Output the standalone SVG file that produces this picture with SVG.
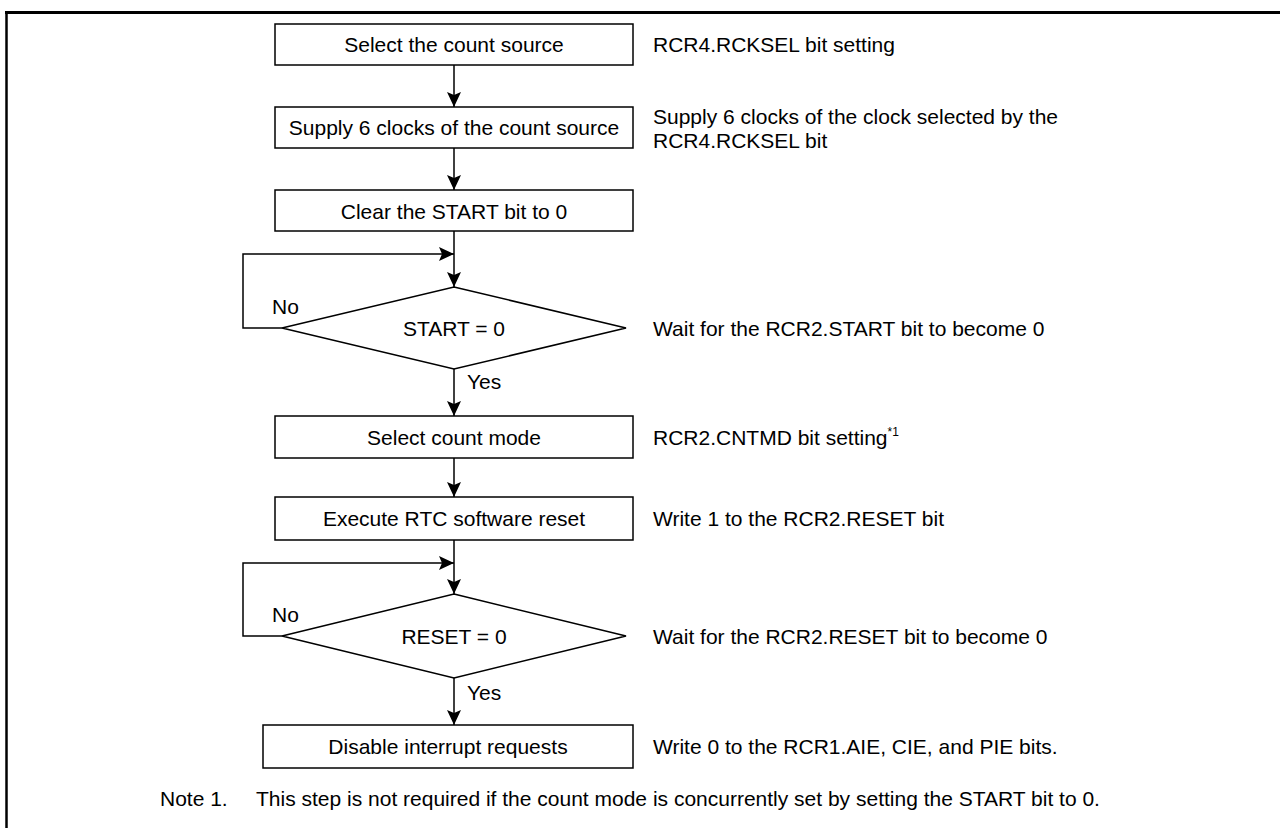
<svg xmlns="http://www.w3.org/2000/svg" width="1280" height="828" viewBox="0 0 1280 828">
<defs>
<marker id="arr" markerUnits="userSpaceOnUse" markerWidth="16" markerHeight="14" refX="15" refY="7" orient="auto">
<path d="M0,0 L15,7 L0,14 L3,7 z" fill="#000"/>
</marker>
<style>
text{font-family:"Liberation Sans",Arial,sans-serif;font-size:21px;fill:#000}
.c{text-anchor:middle}
.box{fill:#fff;stroke:#000;stroke-width:1.5}
.ln{fill:none;stroke:#000;stroke-width:1.5}
.sup{font-size:12px}
</style>
</defs>
<rect width="1280" height="828" fill="#fff"/>
<g id="frame">
<line x1="5" y1="12.5" x2="1280" y2="12.5" stroke="#000" stroke-width="3"/>
<line x1="6.5" y1="11" x2="6.5" y2="828" stroke="#000" stroke-width="2.5"/>
</g>
<g id="connectors">
<line class="ln" x1="454" y1="65" x2="454" y2="107" marker-end="url(#arr)"/>
<line class="ln" x1="454" y1="148" x2="454" y2="190" marker-end="url(#arr)"/>
<line class="ln" x1="454" y1="231" x2="454" y2="287" marker-end="url(#arr)"/>
<polyline class="ln" points="282,328 243,328 243,254 454,254" marker-end="url(#arr)"/>
<line class="ln" x1="454" y1="369" x2="454" y2="416" marker-end="url(#arr)"/>
<line class="ln" x1="454" y1="458" x2="454" y2="497" marker-end="url(#arr)"/>
<line class="ln" x1="454" y1="540" x2="454" y2="594" marker-end="url(#arr)"/>
<polyline class="ln" points="282,636 243,636 243,563 454,563" marker-end="url(#arr)"/>
<line class="ln" x1="454" y1="678" x2="454" y2="725" marker-end="url(#arr)"/>
<text x="272" y="314">No</text>
<text x="467" y="389">Yes</text>
<text x="272" y="622">No</text>
<text x="467" y="700">Yes</text>
</g>
<g id="n1">
<rect class="box" x="275" y="24" width="358" height="41"/>
<text class="c" x="454" y="52">Select the count source</text>
</g>
<g id="n2">
<rect class="box" x="275" y="107" width="358" height="41"/>
<text class="c" x="454" y="135">Supply 6 clocks of the count source</text>
</g>
<g id="n3">
<rect class="box" x="275" y="190" width="358" height="41"/>
<text class="c" x="454" y="218.5">Clear the START bit to 0</text>
</g>
<g id="d1">
<polygon class="box" points="454,287 626,328 454,369 282,328"/>
<text class="c" x="454" y="335.5">START = 0</text>
</g>
<g id="n4">
<rect class="box" x="275" y="416" width="358" height="42"/>
<text class="c" x="454" y="444.5">Select count mode</text>
</g>
<g id="n5">
<rect class="box" x="275" y="497" width="358" height="43"/>
<text class="c" x="454" y="526">Execute RTC software reset</text>
</g>
<g id="d2">
<polygon class="box" points="454,594 626,636 454,678 282,636"/>
<text class="c" x="454" y="643.5">RESET = 0</text>
</g>
<g id="n6">
<rect class="box" x="263" y="725" width="370" height="43"/>
<text class="c" x="448" y="754">Disable interrupt requests</text>
</g>
<g id="notes">
<text x="653" y="52">RCR4.RCKSEL bit setting</text>
<text x="653" y="123.5">Supply 6 clocks of the clock selected by the</text>
<text x="653" y="147.5">RCR4.RCKSEL bit</text>
<text x="653" y="335.5">Wait for the RCR2.START bit to become 0</text>
<text x="653" y="444.5">RCR2.CNTMD bit setting<tspan class="sup" dy="-9">*1</tspan></text>
<text x="653" y="526">Write 1 to the RCR2.RESET bit</text>
<text x="653" y="643.5">Wait for the RCR2.RESET bit to become 0</text>
<text x="653" y="754">Write 0 to the RCR1.AIE, CIE, and PIE bits.</text>
<text x="160" y="806">Note 1.</text>
<text x="256" y="806">This step is not required if the count mode is concurrently set by setting the START bit to 0.</text>
</g>
</svg>
